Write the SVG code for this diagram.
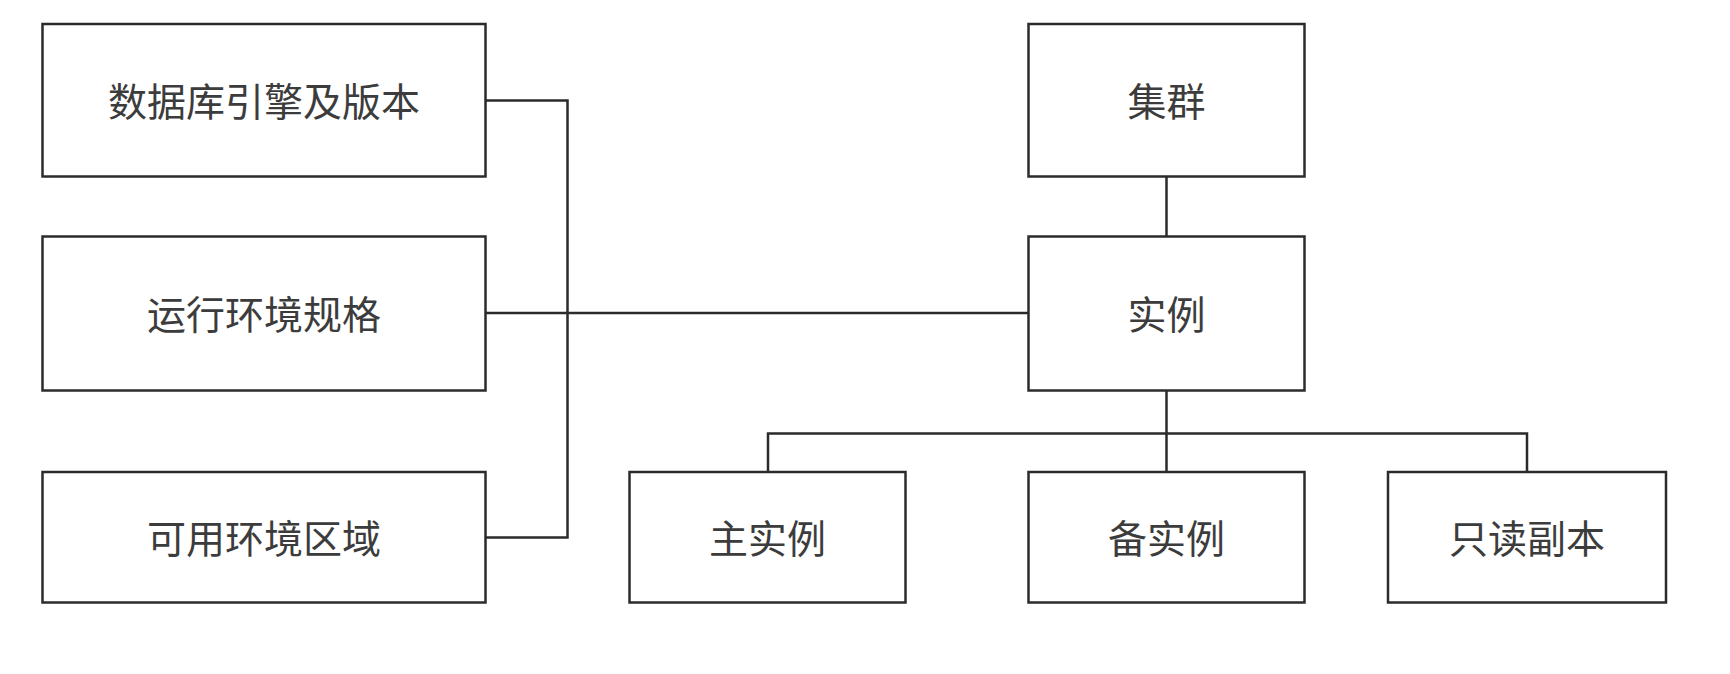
<svg xmlns="http://www.w3.org/2000/svg" width="1730" height="674" viewBox="0 0 1730 674">
<style>
.box{fill:#fff;stroke:#2b2b2b;stroke-width:2.5}
.lbl{font-family:"Noto Sans CJK SC","Noto Sans CJK JP",sans-serif;font-size:39px;fill:#3c3c3c;text-anchor:middle;dominant-baseline:central}
.con{fill:none;stroke:#2b2b2b;stroke-width:2.5}
</style>
<rect width="1730" height="674" fill="#fff"/>
<g id="connectors">
<path class="con" d="M485.5,100.5 H567.5 V537.5 H485.5"/>
<path class="con" d="M485.5,313 H1028.5"/>
<path class="con" d="M1166.5,176.5 V236.5"/>
<path class="con" d="M1166.5,390.5 V472"/>
<path class="con" d="M768,472 V433.5 H1527 V472"/>
</g>
<g id="n-engine"><rect class="box" x="42.5" y="24" width="443" height="152.5"/><text class="lbl" x="264" y="99">数据库引擎及版本</text></g>
<g id="n-spec"><rect class="box" x="42.5" y="236.5" width="443" height="154"/><text class="lbl" x="264" y="312">运行环境规格</text></g>
<g id="n-zone"><rect class="box" x="42.5" y="472" width="443" height="130.5"/><text class="lbl" x="264" y="536">可用环境区域</text></g>
<g id="n-cluster"><rect class="box" x="1028.5" y="24" width="276" height="152.5"/><text class="lbl" x="1166.5" y="99">集群</text></g>
<g id="n-instance"><rect class="box" x="1028.5" y="236.5" width="276" height="154"/><text class="lbl" x="1166.5" y="312">实例</text></g>
<g id="n-primary"><rect class="box" x="629.5" y="472" width="276" height="130.5"/><text class="lbl" x="767.5" y="536">主实例</text></g>
<g id="n-standby"><rect class="box" x="1028.5" y="472" width="276" height="130.5"/><text class="lbl" x="1166.5" y="536">备实例</text></g>
<g id="n-replica"><rect class="box" x="1388" y="472" width="278" height="130.5"/><text class="lbl" x="1527" y="536">只读副本</text></g>
</svg>
